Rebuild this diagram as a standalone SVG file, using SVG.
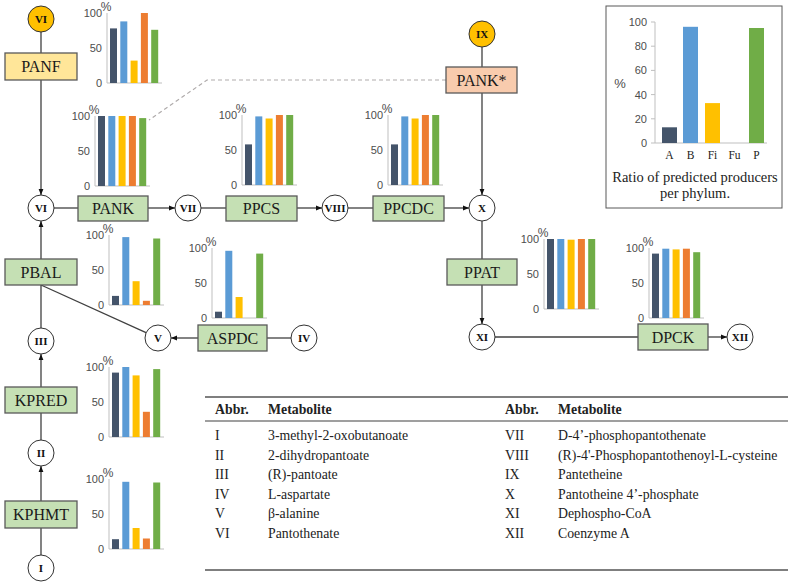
<svg xmlns="http://www.w3.org/2000/svg" width="790" height="583" viewBox="0 0 790 583">
<style>
.box{stroke:#595959;stroke-width:1.3}
.enz{fill:#C5E0B4}
.panf{fill:#FFE699}
.pankx{fill:#F8CBAD}
.met{fill:#fff;stroke:#333;stroke-width:1}
.ext{fill:#FFC000;stroke:#333;stroke-width:1}
.blab{font-family:"Liberation Serif","Times New Roman",serif;font-size:16px;fill:#1a1a1a;text-anchor:middle}
.clab{font-family:"Liberation Serif","Times New Roman",serif;font-size:11px;font-weight:bold;fill:#111;text-anchor:middle}
.axis{stroke:#BFBFBF;stroke-width:1;fill:none}
.tick{font-family:"Liberation Sans",Arial,sans-serif;font-size:11px;fill:#4d4d4d;text-anchor:end}
.pct{font-family:"Liberation Sans",Arial,sans-serif;font-size:12px;fill:#4d4d4d;text-anchor:middle}
.barA{fill:#44546A}.barB{fill:#5B9BD5}.barFi{fill:#FFC000}.barFu{fill:#ED7D31}.barPh{fill:#70AD47}
.conn{stroke:#404040;stroke-width:1.3;fill:none}
.cell{font-family:"Liberation Serif","Times New Roman",serif;font-size:13.8px;fill:#222}
.head{font-family:"Liberation Serif","Times New Roman",serif;font-size:13.8px;font-weight:bold;fill:#222}
</style>
<defs>
<marker id="arr" viewBox="0 0 10 10" refX="10" refY="5" markerWidth="6" markerHeight="6" markerUnits="userSpaceOnUse" orient="auto">
<path d="M0,1 L10,5 L0,9 z" fill="#111"/>
</marker>
</defs>
<rect width="790" height="583" fill="#fff"/>

<g id="connectors">
<line class="conn" x1="41" y1="32" x2="41" y2="53"/>
<line class="conn" x1="41" y1="80" x2="41" y2="195" marker-end="url(#arr)"/>
<line class="conn" x1="41" y1="259" x2="41" y2="221" marker-end="url(#arr)"/>
<line class="conn" x1="41" y1="328" x2="41" y2="285"/>
<line class="conn" x1="41" y1="387" x2="41" y2="354" marker-end="url(#arr)"/>
<line class="conn" x1="41" y1="440" x2="41" y2="413"/>
<line class="conn" x1="41" y1="501" x2="41" y2="466" marker-end="url(#arr)"/>
<line class="conn" x1="41" y1="555" x2="41" y2="528"/>
<line class="conn" x1="54" y1="208" x2="78" y2="208"/>
<line class="conn" x1="148" y1="208" x2="175" y2="208" marker-end="url(#arr)"/>
<line class="conn" x1="201" y1="208" x2="226" y2="208"/>
<line class="conn" x1="297" y1="208" x2="322" y2="208" marker-end="url(#arr)"/>
<line class="conn" x1="348" y1="208" x2="373" y2="208"/>
<line class="conn" x1="444" y1="208" x2="469" y2="208" marker-end="url(#arr)"/>
<line class="conn" x1="482" y1="47" x2="482" y2="67"/>
<line class="conn" x1="482" y1="93" x2="482" y2="195" marker-end="url(#arr)"/>
<line class="conn" x1="482" y1="221" x2="482" y2="259"/>
<line class="conn" x1="482" y1="285" x2="482" y2="324" marker-end="url(#arr)"/>
<line class="conn" x1="495" y1="337" x2="638" y2="337"/>
<line class="conn" x1="708" y1="337" x2="727" y2="337" marker-end="url(#arr)"/>
<line class="conn" x1="291" y1="338" x2="267" y2="338"/>
<line class="conn" x1="198" y1="338" x2="171" y2="338" marker-end="url(#arr)"/>
<line class="conn" x1="41" y1="285" x2="146" y2="332.6"/>
<path d="M446,80 L207,80 L149,120" fill="none" stroke="#AFABAB" stroke-width="1.2" stroke-dasharray="4,3"/>
</g>

<g id="n-VI-ext"><circle class="ext" cx="41" cy="19" r="13"/><text class="clab" x="41" y="23">VI</text></g>
<g id="n-PANF"><rect class="box panf" x="5" y="53" width="72" height="27"/><text class="blab" x="41" y="72">PANF</text></g>
<g id="n-VI"><circle class="met" cx="41" cy="208" r="13"/><text class="clab" x="41" y="212">VI</text></g>
<g id="n-PBAL"><rect class="box enz" x="5" y="259" width="72" height="26"/><text class="blab" x="41" y="277.5">PBAL</text></g>
<g id="n-III"><circle class="met" cx="41" cy="341" r="13"/><text class="clab" x="41" y="345">III</text></g>
<g id="n-KPRED"><rect class="box enz" x="5" y="387" width="72" height="26"/><text class="blab" x="41" y="405.5">KPRED</text></g>
<g id="n-II"><circle class="met" cx="41" cy="453" r="13"/><text class="clab" x="41" y="457">II</text></g>
<g id="n-KPHMT"><rect class="box enz" x="5" y="501" width="72" height="27"/><text class="blab" x="41" y="520">KPHMT</text></g>
<g id="n-I"><circle class="met" cx="41" cy="568" r="13"/><text class="clab" x="41" y="572">I</text></g>
<g id="n-PANK"><rect class="box enz" x="78" y="196" width="70" height="25"/><text class="blab" x="113" y="214">PANK</text></g>
<g id="n-VII"><circle class="met" cx="188" cy="208" r="13"/><text class="clab" x="188" y="212">VII</text></g>
<g id="n-PPCS"><rect class="box enz" x="226" y="196" width="71" height="25"/><text class="blab" x="261.5" y="214">PPCS</text></g>
<g id="n-VIII"><circle class="met" cx="335" cy="208" r="13"/><text class="clab" x="335" y="212" textLength="21" lengthAdjust="spacingAndGlyphs">VIII</text></g>
<g id="n-PPCDC"><rect class="box enz" x="373" y="196" width="71" height="25"/><text class="blab" x="408.5" y="214">PPCDC</text></g>
<g id="n-X"><circle class="met" cx="482" cy="208" r="13"/><text class="clab" x="482" y="212">X</text></g>
<g id="n-IX"><circle class="ext" cx="482" cy="34" r="13"/><text class="clab" x="482" y="38">IX</text></g>
<g id="n-PANKstar"><rect class="box pankx" x="446" y="67" width="71" height="26"/><text class="blab" x="481.5" y="85.5">PANK*</text></g>
<g id="n-PPAT"><rect class="box enz" x="447" y="259" width="70" height="26"/><text class="blab" x="482" y="277.5">PPAT</text></g>
<g id="n-XI"><circle class="met" cx="482" cy="337" r="13"/><text class="clab" x="482" y="341">XI</text></g>
<g id="n-DPCK"><rect class="box enz" x="638" y="324" width="70" height="26"/><text class="blab" x="673" y="342.5">DPCK</text></g>
<g id="n-XII"><circle class="met" cx="740" cy="337" r="13"/><text class="clab" x="740" y="341">XII</text></g>
<g id="n-V"><circle class="met" cx="158" cy="338" r="13"/><text class="clab" x="158" y="342">V</text></g>
<g id="n-ASPDC"><rect class="box enz" x="198" y="325" width="69" height="26"/><text class="blab" x="232.5" y="343.5">ASPDC</text></g>
<g id="n-IV"><circle class="met" cx="304" cy="338" r="13"/><text class="clab" x="304" y="342">IV</text></g>

<g id="chart-PANF" transform="translate(107,83)">
<path class="axis" d="M0,-70 V0 H55"/>
<text class="tick" fill="#4d4d4d" x="-5" y="-66">100</text><text class="tick" fill="#4d4d4d" x="-5" y="-31">50</text><text class="tick" fill="#4d4d4d" x="-5" y="4">0</text><text class="pct" fill="#4d4d4d" x="-1" y="-72">%</text>
<rect class="barA" x="3" y="-54.6" width="7" height="54.6"/><rect class="barB" x="13.3" y="-61.6" width="7" height="61.6"/><rect class="barFi" x="23.6" y="-22.4" width="7" height="22.4"/><rect class="barFu" x="33.9" y="-70" width="7" height="70"/><rect class="barPh" x="44.2" y="-53.2" width="7" height="53.2"/>
</g>
<g id="chart-PANK" transform="translate(95,186)">
<path class="axis" d="M0,-70 V0 H55"/>
<text class="tick" fill="#4d4d4d" x="-5" y="-66">100</text><text class="tick" fill="#4d4d4d" x="-5" y="-31">50</text><text class="tick" fill="#4d4d4d" x="-5" y="4">0</text><text class="pct" fill="#4d4d4d" x="-1" y="-72">%</text>
<rect class="barA" x="3" y="-70" width="7" height="70"/><rect class="barB" x="13.3" y="-70" width="7" height="70"/><rect class="barFi" x="23.6" y="-70" width="7" height="70"/><rect class="barFu" x="33.9" y="-70" width="7" height="70"/><rect class="barPh" x="44.2" y="-67.9" width="7" height="67.9"/>
</g>
<g id="chart-PPCS" transform="translate(242,185)">
<path class="axis" d="M0,-70 V0 H55"/>
<text class="tick" fill="#4d4d4d" x="-5" y="-66">100</text><text class="tick" fill="#4d4d4d" x="-5" y="-31">50</text><text class="tick" fill="#4d4d4d" x="-5" y="4">0</text><text class="pct" fill="#4d4d4d" x="-1" y="-72">%</text>
<rect class="barA" x="3" y="-40.6" width="7" height="40.6"/><rect class="barB" x="13.3" y="-68.6" width="7" height="68.6"/><rect class="barFi" x="23.6" y="-66.5" width="7" height="66.5"/><rect class="barFu" x="33.9" y="-70" width="7" height="70"/><rect class="barPh" x="44.2" y="-70" width="7" height="70"/>
</g>
<g id="chart-PPCDC" transform="translate(388,185)">
<path class="axis" d="M0,-70 V0 H55"/>
<text class="tick" fill="#4d4d4d" x="-5" y="-66">100</text><text class="tick" fill="#4d4d4d" x="-5" y="-31">50</text><text class="tick" fill="#4d4d4d" x="-5" y="4">0</text><text class="pct" fill="#4d4d4d" x="-1" y="-72">%</text>
<rect class="barA" x="3" y="-40.6" width="7" height="40.6"/><rect class="barB" x="13.3" y="-68.6" width="7" height="68.6"/><rect class="barFi" x="23.6" y="-66.5" width="7" height="66.5"/><rect class="barFu" x="33.9" y="-70" width="7" height="70"/><rect class="barPh" x="44.2" y="-70" width="7" height="70"/>
</g>
<g id="chart-PBAL" transform="translate(109,305)">
<path class="axis" d="M0,-70 V0 H55"/>
<text class="tick" fill="#4d4d4d" x="-5" y="-66">100</text><text class="tick" fill="#4d4d4d" x="-5" y="-31">50</text><text class="tick" fill="#4d4d4d" x="-5" y="4">0</text><text class="pct" fill="#4d4d4d" x="-1" y="-72">%</text>
<rect class="barA" x="3" y="-9.1" width="7" height="9.1"/><rect class="barB" x="13.3" y="-67.9" width="7" height="67.9"/><rect class="barFi" x="23.6" y="-23.8" width="7" height="23.8"/><rect class="barFu" x="33.9" y="-4.2" width="7" height="4.2"/><rect class="barPh" x="44.2" y="-66.5" width="7" height="66.5"/>
</g>
<g id="chart-ASPDC" transform="translate(212,318)">
<path class="axis" d="M0,-70 V0 H55"/>
<text class="tick" fill="#4d4d4d" x="-5" y="-66">100</text><text class="tick" fill="#4d4d4d" x="-5" y="-31">50</text><text class="tick" fill="#4d4d4d" x="-5" y="4">0</text><text class="pct" fill="#4d4d4d" x="-1" y="-72">%</text>
<rect class="barA" x="3" y="-6.3" width="7" height="6.3"/><rect class="barB" x="13.3" y="-67.2" width="7" height="67.2"/><rect class="barFi" x="23.6" y="-21" width="7" height="21"/><rect class="barPh" x="44.2" y="-64.4" width="7" height="64.4"/>
</g>
<g id="chart-KPRED" transform="translate(109,437)">
<path class="axis" d="M0,-70 V0 H55"/>
<text class="tick" fill="#4d4d4d" x="-5" y="-66">100</text><text class="tick" fill="#4d4d4d" x="-5" y="-31">50</text><text class="tick" fill="#4d4d4d" x="-5" y="4">0</text><text class="pct" fill="#4d4d4d" x="-1" y="-72">%</text>
<rect class="barA" x="3" y="-64.4" width="7" height="64.4"/><rect class="barB" x="13.3" y="-70" width="7" height="70"/><rect class="barFi" x="23.6" y="-61.6" width="7" height="61.6"/><rect class="barFu" x="33.9" y="-25.2" width="7" height="25.2"/><rect class="barPh" x="44.2" y="-67.9" width="7" height="67.9"/>
</g>
<g id="chart-KPHMT" transform="translate(109,549)">
<path class="axis" d="M0,-70 V0 H55"/>
<text class="tick" fill="#4d4d4d" x="-5" y="-66">100</text><text class="tick" fill="#4d4d4d" x="-5" y="-31">50</text><text class="tick" fill="#4d4d4d" x="-5" y="4">0</text><text class="pct" fill="#4d4d4d" x="-1" y="-72">%</text>
<rect class="barA" x="3" y="-9.8" width="7" height="9.8"/><rect class="barB" x="13.3" y="-67.2" width="7" height="67.2"/><rect class="barFi" x="23.6" y="-21" width="7" height="21"/><rect class="barFu" x="33.9" y="-10.5" width="7" height="10.5"/><rect class="barPh" x="44.2" y="-66.5" width="7" height="66.5"/>
</g>
<g id="chart-PPAT" transform="translate(544,309)">
<path class="axis" d="M0,-70 V0 H55"/>
<text class="tick" fill="#4d4d4d" x="-5" y="-66">100</text><text class="tick" fill="#4d4d4d" x="-5" y="-31">50</text><text class="tick" fill="#4d4d4d" x="-5" y="4">0</text><text class="pct" fill="#4d4d4d" x="-1" y="-72">%</text>
<rect class="barA" x="3" y="-70" width="7" height="70"/><rect class="barB" x="13.3" y="-70" width="7" height="70"/><rect class="barFi" x="23.6" y="-69.3" width="7" height="69.3"/><rect class="barFu" x="33.9" y="-70" width="7" height="70"/><rect class="barPh" x="44.2" y="-70" width="7" height="70"/>
</g>
<g id="chart-DPCK" transform="translate(649,318)">
<path class="axis" d="M0,-70 V0 H55"/>
<text class="tick" fill="#4d4d4d" x="-5" y="-66">100</text><text class="tick" fill="#4d4d4d" x="-5" y="-31">50</text><text class="tick" fill="#4d4d4d" x="-5" y="4">0</text><text class="pct" fill="#4d4d4d" x="-1" y="-72">%</text>
<rect class="barA" x="3" y="-64.4" width="7" height="64.4"/><rect class="barB" x="13.3" y="-69.3" width="7" height="69.3"/><rect class="barFi" x="23.6" y="-68.6" width="7" height="68.6"/><rect class="barFu" x="33.9" y="-69.3" width="7" height="69.3"/><rect class="barPh" x="44.2" y="-65.8" width="7" height="65.8"/>
</g>

<g id="legend">
<rect x="606" y="6" width="176" height="202" fill="#fff" stroke="#595959" stroke-width="1"/>
<g transform="translate(655,143)">
<path class="axis" d="M0,-121 V0 H112 M-4,-121 H0 M-4,-96.8 H0 M-4,-72.6 H0 M-4,-48.4 H0 M-4,-24.2 H0 M-4,0 H0"/>
<text class="tick" x="-8" y="-117">100</text><text class="tick" x="-8" y="-92.8">80</text><text class="tick" x="-8" y="-68.6">60</text><text class="tick" x="-8" y="-44.4">40</text><text class="tick" x="-8" y="-20.2">20</text><text class="tick" x="-8" y="4">0</text>
<rect class="barA" x="7" y="-15.7" width="15" height="15.7"/><rect class="barB" x="28" y="-116.2" width="15" height="116.2"/><rect class="barFi" x="50" y="-39.9" width="15" height="39.9"/><rect class="barPh" x="94" y="-115" width="15" height="115"/>
</g>
<text class="pct" x="620" y="88" style="font-size:13px">%</text>
<g class="cell" text-anchor="middle" style="font-size:11.5px">
<text x="669.5" y="159">A</text><text x="690.5" y="159">B</text><text x="712.5" y="159">Fi</text><text x="734.5" y="159">Fu</text><text x="756.5" y="159">P</text>
</g>
<g class="cell" text-anchor="middle" style="font-size:14.5px">
<text x="695" y="182">Ratio of predicted producers</text>
<text x="695" y="198">per phylum.</text>
</g>
</g>

<g id="table">
<line x1="205" y1="397" x2="788" y2="397" stroke="#7f7f7f" stroke-width="2"/>
<line x1="205" y1="421" x2="788" y2="421" stroke="#404040" stroke-width="1.2"/>
<line x1="205" y1="570" x2="788" y2="570" stroke="#7f7f7f" stroke-width="2"/>
<text class="head" x="215" y="414">Abbr.</text><text class="head" x="268" y="414">Metabolite</text>
<text class="head" x="505" y="414">Abbr.</text><text class="head" x="558" y="414">Metabolite</text>
<text class="cell" x="215" y="440">I</text><text class="cell" x="268" y="440">3-methyl-2-oxobutanoate</text>
<text class="cell" x="215" y="459.5">II</text><text class="cell" x="268" y="459.5">2-dihydropantoate</text>
<text class="cell" x="215" y="479">III</text><text class="cell" x="268" y="479">(R)-pantoate</text>
<text class="cell" x="215" y="498.5">IV</text><text class="cell" x="268" y="498.5">L-aspartate</text>
<text class="cell" x="215" y="518">V</text><text class="cell" x="268" y="518">β-alanine</text>
<text class="cell" x="215" y="537.5">VI</text><text class="cell" x="268" y="537.5">Pantothenate</text>
<text class="cell" x="505" y="440">VII</text><text class="cell" x="558" y="440">D-4’-phosphopantothenate</text>
<text class="cell" x="505" y="459.5">VIII</text><text class="cell" x="558" y="459.5">(R)-4'-Phosphopantothenoyl-L-cysteine</text>
<text class="cell" x="505" y="479">IX</text><text class="cell" x="558" y="479">Pantetheine</text>
<text class="cell" x="505" y="498.5">X</text><text class="cell" x="558" y="498.5">Pantotheine 4’-phosphate</text>
<text class="cell" x="505" y="518">XI</text><text class="cell" x="558" y="518">Dephospho-CoA</text>
<text class="cell" x="505" y="537.5">XII</text><text class="cell" x="558" y="537.5">Coenzyme A</text>
</g>
</svg>
